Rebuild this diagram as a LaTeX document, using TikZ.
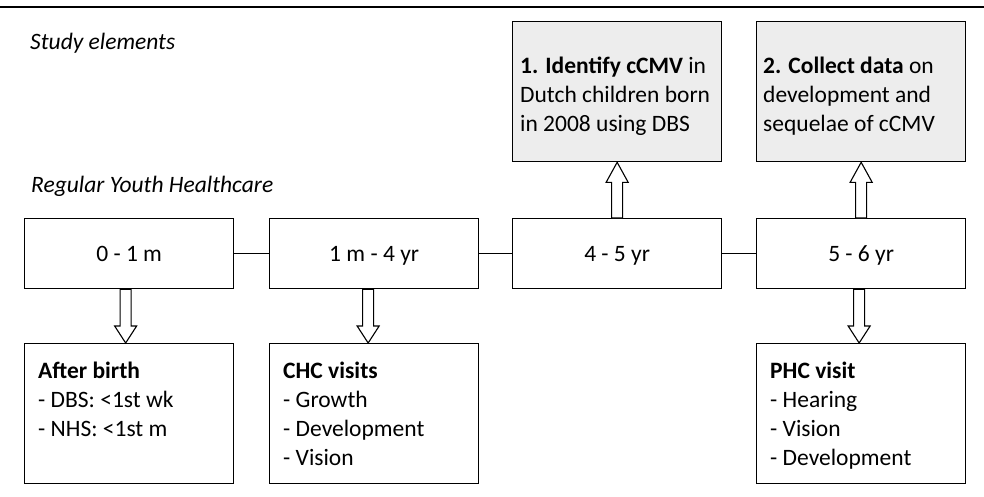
\documentclass[tikz,border=0pt]{standalone}
\usepackage{fontspec}
\setmainfont{Carlito}
\usetikzlibrary{calc}
\definecolor{studygray}{RGB}{237,237,237}
% #1 start, #2 tip, #3 signed head length (positive: downward arrow)
\newcommand\hollowarrow[3]{%
  \draw[harrowst] let \p1=(#1), \p2=(#2) in
    (\x2,\y2) -- (\x2+11pt,\y2+#3) -- (\x2+5.5pt,\y2+#3) --
    (\x2+5.5pt,\y1) -- (\x2-5.5pt,\y1) -- (\x2-5.5pt,\y2+#3) --
    (\x2-11pt,\y2+#3) -- cycle;}
\tikzset{
  every node/.style={font=\fontsize{23.5}{29}\selectfont},
  tbox/.style={draw, line width=1.3pt, minimum width=209pt, minimum height=70pt,
    inner sep=0pt, anchor=north west, text height=15pt, text depth=0pt},
  gbox/.style={draw, line width=1.3pt, fill=studygray, minimum width=209pt,
    minimum height=140pt, inner sep=0pt, anchor=north west},
  lbox/.style={draw, line width=1.3pt, minimum width=209pt, minimum height=140pt,
    inner sep=0pt, anchor=north west},
  conn/.style={line width=1.3pt},
  harrowst/.style={draw, line width=1.1pt, fill=white, line join=miter},
  btext/.style={anchor=north west, align=left, inner sep=0pt},
  hdr/.style={anchor=base west, inner sep=0pt, font=\fontsize{23.5}{29}\selectfont\itshape},
}
\begin{document}
\begin{tikzpicture}[x=1pt,y=-1pt]
\useasboundingbox (0,0) rectangle (984,497);
\draw[line width=2pt] (0,7) -- (984,7);

\node[hdr] (h1) at (30,50) {Study elements};
\node[hdr] (h2) at (31,192) {Regular Youth Healthcare};

% study boxes
\node[gbox] (s1) at (512,21) {};
\node[gbox] (s2) at (756,21) {};
\node[btext] (s1t) at (520,53) {\rule{0pt}{20pt}\textbf{1. Identify cCMV} in\\Dutch children born\\in 2008 using DBS};
\node[btext] (s2t) at (763,53) {\rule{0pt}{20pt}\textbf{2. Collect data} on\\development and\\sequelae of cCMV};

% time boxes
\node[tbox] (t1) at (24,218) {0 - 1 m};
\node[tbox] (t2) at (269,218) {1 m - 4 yr};
\node[tbox] (t3) at (512,218) {4 - 5 yr};
\node[tbox] (t4) at (756,218) {5 - 6 yr};
\draw[conn] (t1.east) -- (t2.west);
\draw[conn] (t2.east) -- (t3.west);
\draw[conn] (t3.east) -- (t4.west);

% lower boxes
\node[lbox] (b1) at (24,343) {};
\node[lbox] (b2) at (269,343) {};
\node[lbox] (b4) at (756,343) {};
\node[btext] (b1t) at (38,358) {\rule{0pt}{20pt}\textbf{After birth}\\- DBS: <1st wk\\- NHS: <1st m};
\node[btext] (b2t) at (283,358) {\rule{0pt}{20pt}\textbf{CHC visits}\\- Growth\\- Development\\- Vision};
\node[btext] (b4t) at (770,358) {\rule{0pt}{20pt}\textbf{PHC visit}\\- Hearing\\- Vision\\- Development};

% arrows
\coordinate (a1) at ($(t1.south)+(-3.5,0)$);
\coordinate (a2) at ($(t2.south)+(-6,0)$);
\coordinate (a4) at ($(t4.south)+(-2,0)$);
\hollowarrow{a1}{a1 |- b1.north}{17pt}
\hollowarrow{a2}{a2 |- b2.north}{17pt}
\hollowarrow{a4}{a4 |- b4.north}{17pt}
\hollowarrow{t3.north}{s1.south}{-20pt}
\hollowarrow{t4.north}{s2.south}{-20pt}
\end{tikzpicture}
\end{document}
